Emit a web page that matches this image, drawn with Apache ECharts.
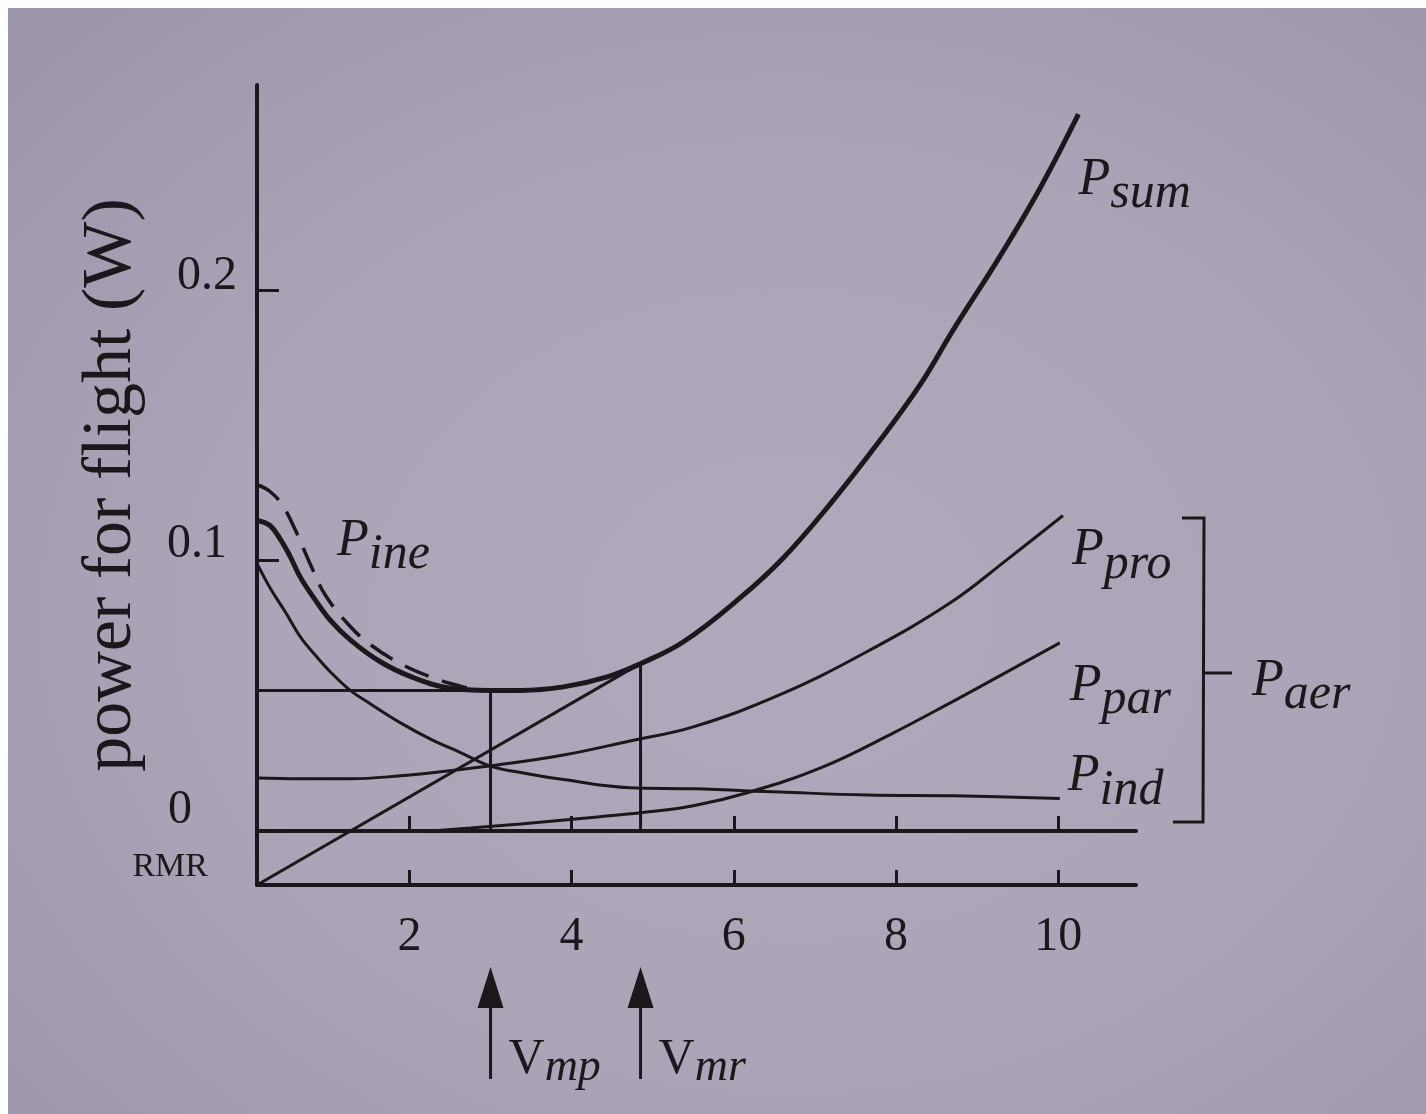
<!DOCTYPE html>
<html>
<head>
<meta charset="utf-8">
<title>power for flight</title>
<script src="https://cdn.jsdelivr.net/npm/echarts@6/dist/echarts.min.js"></script>
<style>
    html, body { margin: 0; padding: 0; background: #fff; }
    #paper {
        position: absolute; left: 8px; top: 8px; width: 1418px; height: 1106px;
        background: radial-gradient(ellipse at 55% 55%, #b1a9bb 0%, #aba3b6 55%, #9b94a9 100%);
    }
    #chart { position: absolute; left: 0; top: 0; width: 1426px; height: 1114px; }
</style>
</head>
<body>
<div id="paper"></div>
<div id="chart"></div>
<script>
    var INK = '#1d171b';
    var SERIF = '"Liberation Serif", "Times New Roman", serif';

    // flight speed (x) and power (W)
    var sumSpeed = [0.13, 0.28, 0.41, 0.53, 0.65, 0.81, 1.02, 1.27, 1.64, 2.05, 2.47, 3.00, 3.37, 3.90, 4.44, 4.85, 5.38, 6.08, 6.61, 7.19, 7.81, 8.30, 8.71, 9.28, 9.78, 10.25];
    var sumPower = [0.1148, 0.1130, 0.1078, 0.1015, 0.0941, 0.0867, 0.0781, 0.0707, 0.0626, 0.0567, 0.0530, 0.0520, 0.0520, 0.0533, 0.0570, 0.0619, 0.0700, 0.0863, 0.1010, 0.1210, 0.1448, 0.1652, 0.1856, 0.2125, 0.2380, 0.2652];

    // P_sum with P_ine added (dashed)
    var ineSpeed = [0.13, 0.28, 0.43, 0.59, 0.78, 0.96, 1.25, 1.52, 1.89, 2.26, 2.66, 2.93];
    var inePower = [0.1280, 0.1256, 0.1207, 0.1115, 0.0985, 0.0874, 0.0763, 0.0689, 0.0619, 0.0570, 0.0533, 0.0520];

    var indSpeed = [0.12, 0.28, 0.47, 0.65, 0.84, 1.02, 1.27, 1.52, 1.89, 2.26, 2.63, 3.00, 3.49, 3.90, 4.72, 5.50, 6.57, 7.64, 8.71, 10.02];
    var indPower = [0.0990, 0.0900, 0.0810, 0.0720, 0.0650, 0.0590, 0.0520, 0.0470, 0.0400, 0.0340, 0.0290, 0.0240, 0.0210, 0.0190, 0.0160, 0.0156, 0.0144, 0.0133, 0.0130, 0.0120];

    var proSpeed = [0.12, 0.65, 1.27, 1.89, 2.38, 3.08, 3.90, 4.72, 5.50, 6.57, 7.64, 8.67, 9.37, 10.06];
    var proPower = [0.0196, 0.0193, 0.0193, 0.0204, 0.0219, 0.0244, 0.0281, 0.0333, 0.0385, 0.0504, 0.0663, 0.0844, 0.1004, 0.1167];

    var parSpeed = [2.26, 2.75, 3.37, 4.32, 4.85, 5.50, 6.20, 7.10, 7.97, 8.67, 9.28, 10.02];
    var parPower = [0.0000, 0.0011, 0.0026, 0.0052, 0.0067, 0.0093, 0.0144, 0.0237, 0.0363, 0.0474, 0.0574, 0.0696];

    var rmrLevel = -0.02;
    var axisStart = 0.12;
    var vmpSpeed = 3.0;      // minimum power speed
    var vmrSpeed = 4.85;     // maximum range speed
    var minPower = 0.052;
    var mrPower = 0.062;

    var xTicks = [2, 4, 6, 8, 10];
    var yTicks = [0.1, 0.2];
    var yLabelValues = [rmrLevel, 0, 0.1, 0.2];

    function pairs(xs, ys) {
        return xs.map(function (x, i) { return [x, ys[i]]; });
    }

    var labelRich = {
        P: { fontFamily: SERIF, fontStyle: 'italic', fontSize: 52, lineHeight: 50, verticalAlign: 'top', color: INK },
        s: { fontFamily: SERIF, fontStyle: 'italic', fontSize: 50, lineHeight: 80, color: INK }
    };

    function curveLabel(sub, dx, dy) {
        return {
            show: true,
            distance: 0,
            offset: [dx, dy],
            formatter: '{P|P}{s|' + sub + '}',
            rich: labelRich
        };
    }

    function curve(name, data, width, extra) {
        var s = {
            name: name,
            type: 'line',
            data: data,
            smooth: 0.4,
            showSymbol: false,
            lineStyle: { color: INK, width: width },
            silent: true,
            z: 3
        };
        for (var k in extra) s[k] = extra[k];
        return s;
    }

    function straight(name, data) {
        return {
            name: name,
            type: 'line',
            data: data,
            showSymbol: false,
            lineStyle: { color: INK, width: 3 },
            silent: true,
            z: 2
        };
    }

    var sharedX = {
        type: 'value',
        min: axisStart,
        max: 10.96,
        splitLine: { show: false },
        axisTick: { inside: true, length: 15, customValues: xTicks, lineStyle: { color: INK, width: 3 } }
    };

    var myChart = echarts.init(document.getElementById('chart'));

    myChart.setOption({
        animation: false,
        backgroundColor: 'transparent',
        grid: { left: 257, right: 290, top: 85, bottom: 229 },
        xAxis: [
            echarts.util.merge({
                position: 'bottom',
                axisLine: { onZero: false, lineStyle: { color: INK, width: 4 } },
                axisLabel: {
                    customValues: xTicks,
                    margin: 28,
                    color: INK,
                    fontFamily: SERIF,
                    fontSize: 48
                }
            }, sharedX, true),
            echarts.util.merge({
                position: 'bottom',
                axisLine: { onZero: true, lineStyle: { color: INK, width: 4 } },
                axisLabel: { show: false }
            }, sharedX, true)
        ],
        yAxis: {
            type: 'value',
            min: rmrLevel,
            max: 0.276,
            name: 'power for flight (W)',
            nameLocation: 'middle',
            nameRotate: 90,
            nameGap: 110,
            nameMoveOverlap: false,
            nameTextStyle: { color: INK, fontFamily: SERIF, fontSize: 70 },
            splitLine: { show: false },
            axisLine: { onZero: false, lineStyle: { color: INK, width: 4 } },
            axisTick: { inside: true, length: 22, customValues: yTicks, lineStyle: { color: INK, width: 3 } },
            axisLabel: {
                customValues: yLabelValues,
                margin: 10,
                color: INK,
                fontFamily: SERIF,
                fontSize: 48,
                formatter: function (v) {
                    if (v < 0) return '{r|RMR}';
                    if (v === 0) return '{z|0}';
                    return '{n' + Math.round(v * 10) + '|' + v.toFixed(1) + '}';
                },
                rich: {
                    r: { fontFamily: SERIF, fontSize: 34, color: INK, padding: [0, 39, 36, 0] },
                    z: { fontFamily: SERIF, fontSize: 48, color: INK, padding: [0, 55, 42, 0] },
                    n1: { fontFamily: SERIF, fontSize: 48, color: INK, padding: [0, 20, 32, 0] },
                    n2: { fontFamily: SERIF, fontSize: 48, color: INK, padding: [0, 10, 28, 0] }
                }
            }
        },
        series: [
            curve('P_sum', pairs(sumSpeed, sumPower), 5, { endLabel: curveLabel('sum', 0, 80) }),
            curve('P_sum + P_ine', pairs(ineSpeed, inePower), 3.5, {
                lineStyle: { color: INK, width: 3.5, type: [26, 14] }
            }),
            curve('P_ind', pairs(indSpeed, indPower), 3, { endLabel: curveLabel('ind', 8, -8) }),
            curve('P_pro', pairs(proSpeed, proPower), 3, { endLabel: curveLabel('pro', 9, 49) }),
            curve('P_par', pairs(parSpeed, parPower), 3, { endLabel: curveLabel('par', 10, 57) }),
            straight('tangent', [[axisStart, rmrLevel], [vmrSpeed, mrPower]]),
            straight('min power', [[axisStart, minPower], [vmpSpeed, minPower]]),
            straight('Vmp', [[vmpSpeed, 0], [vmpSpeed, minPower]]),
            straight('Vmr', [[vmrSpeed, 0], [vmrSpeed, mrPower]])
        ]
    });

    // arrows under the axis and the other annotations
    var vRich = {
        V: { fontFamily: SERIF, fontSize: 50, lineHeight: 50, verticalAlign: 'top', fill: INK },
        s: { fontFamily: SERIF, fontStyle: 'italic', fontSize: 46, lineHeight: 66, fill: INK }
    };
    var pRich = {
        P: { fontFamily: SERIF, fontStyle: 'italic', fontSize: 52, lineHeight: 50, verticalAlign: 'top', fill: INK },
        s: { fontFamily: SERIF, fontStyle: 'italic', fontSize: 50, lineHeight: 80, fill: INK }
    };

    function arrow(speed, sub) {
        var px = myChart.convertToPixel({ xAxisIndex: 0, yAxisIndex: 0 }, [speed, 0])[0];
        return [
            { type: 'polygon', shape: { points: [[px, 967], [px - 13, 1008], [px + 13, 1008]] }, style: { fill: INK } },
            { type: 'line', shape: { x1: px, y1: 1006, x2: px, y2: 1079 }, style: { stroke: INK, lineWidth: 3 } },
            { type: 'text', x: px + 18, y: 1035, style: { text: '{V|V}{s|' + sub + '}', rich: vRich, verticalAlign: 'top' } }
        ];
    }

    var graphics = [].concat(
        arrow(vmpSpeed, 'mp'),
        arrow(vmrSpeed, 'mr'),
        [
            { type: 'text', x: 337, y: 515, style: { text: '{P|P}{s|ine}', rich: pRich, verticalAlign: 'top' } },
            { type: 'text', x: 1252, y: 655, style: { text: '{P|P}{s|aer}', rich: pRich, verticalAlign: 'top' } },
            { type: 'polyline', shape: { points: [[1182, 518], [1204, 518], [1203, 822], [1173, 822]] }, style: { stroke: INK, lineWidth: 3, fill: null } },
            { type: 'line', shape: { x1: 1204, y1: 673, x2: 1232, y2: 673 }, style: { stroke: INK, lineWidth: 3 } }
        ]
    );

    myChart.setOption({ graphic: graphics });
</script>
</body>
</html>
